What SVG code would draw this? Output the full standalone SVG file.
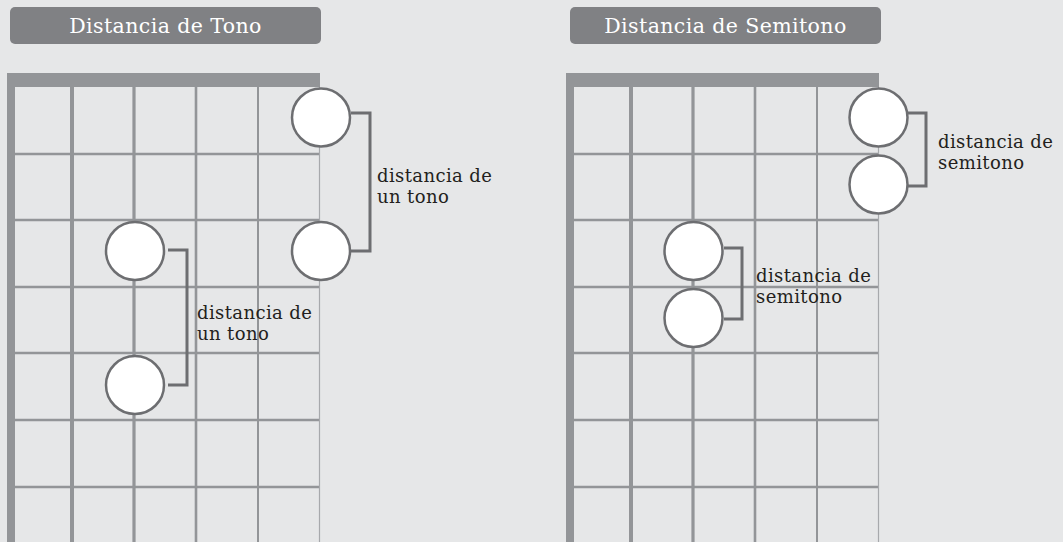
<svg xmlns="http://www.w3.org/2000/svg" width="1063" height="542" viewBox="0 0 1063 542">
<style>
.bg{fill:#e6e7e8}
.title{fill:#808184}
.ttext{fill:#ffffff;font-family:"DejaVu Serif","Liberation Serif",serif;font-size:20.5px;letter-spacing:0.4px}
.nut{fill:#939598}
.fret{stroke:#939598;stroke-width:2.5;fill:none}
.note{fill:#ffffff;stroke:#6d6e71;stroke-width:2.5}
.br{fill:none;stroke:#6d6e71;stroke-width:3}
.lbl{fill:#231f20;font-family:"DejaVu Serif","Liberation Serif",serif;font-size:18px;letter-spacing:0.4px}
</style>
<rect class="bg" x="0" y="0" width="1063" height="542"/>
<defs>
<g id="board">
<rect class="nut" x="7" y="73" width="313" height="14"/>
<rect class="nut" x="7" y="73" width="8" height="469"/>
<g class="fret">
<line x1="15" y1="154" x2="320" y2="154"/>
<line x1="15" y1="220" x2="320" y2="220"/>
<line x1="15" y1="287" x2="320" y2="287"/>
<line x1="15" y1="353" x2="320" y2="353"/>
<line x1="15" y1="420" x2="320" y2="420"/>
<line x1="15" y1="487" x2="320" y2="487"/>
</g>
<line x1="72" y1="87" x2="72" y2="542" stroke="#939598" stroke-width="4"/>
<line x1="134" y1="87" x2="134" y2="542" stroke="#939598" stroke-width="3.2"/>
<line x1="196" y1="87" x2="196" y2="542" stroke="#939598" stroke-width="2.6"/>
<line x1="258" y1="87" x2="258" y2="542" stroke="#939598" stroke-width="2"/>
<line x1="319.5" y1="87" x2="319.5" y2="542" stroke="#a7a9ac" stroke-width="1.2"/>
</g>
</defs>
<g id="tono-title">
<rect class="title" x="10" y="7" width="311" height="37" rx="5"/>
<text class="ttext" x="165.5" y="33" text-anchor="middle">Distancia de Tono</text>
</g>
<g id="semitono-title">
<rect class="title" x="570" y="7" width="311" height="37" rx="5"/>
<text class="ttext" x="725.5" y="33" text-anchor="middle">Distancia de Semitono</text>
</g>
<g id="tono-board"><use href="#board"/></g>
<g id="semitono-board"><use href="#board" transform="translate(559,0)"/></g>
<g id="connectors">
<polyline class="br" points="351,113 370,113 370,251 351,251"/>
<polyline class="br" points="168,250 187,250 187,385 168,385"/>
<polyline class="br" points="908,113 926,113 926,186 908,186"/>
<polyline class="br" points="724,248 742,248 742,319 724,319"/>
</g>
<g id="tono-note1"><circle class="note" cx="321" cy="117.5" r="29"/></g>
<g id="tono-note2"><circle class="note" cx="321" cy="251" r="29"/></g>
<g id="tono-note3"><circle class="note" cx="135" cy="251" r="29"/></g>
<g id="tono-note4"><circle class="note" cx="135" cy="385" r="29"/></g>
<g id="semi-note1"><circle class="note" cx="878.5" cy="117.5" r="29"/></g>
<g id="semi-note2"><circle class="note" cx="878.5" cy="184.5" r="29"/></g>
<g id="semi-note3"><circle class="note" cx="693.5" cy="251" r="29"/></g>
<g id="semi-note4"><circle class="note" cx="693.5" cy="318" r="29"/></g>
<g id="tono-label1"><text class="lbl" x="377" y="182">distancia de<tspan x="377" y="203">un tono</tspan></text></g>
<g id="tono-label2"><text class="lbl" x="197" y="319">distancia de<tspan x="197" y="340">un tono</tspan></text></g>
<g id="semi-label1"><text class="lbl" x="938" y="148">distancia de<tspan x="938" y="169">semitono</tspan></text></g>
<g id="semi-label2"><text class="lbl" x="756" y="282">distancia de<tspan x="756" y="303">semitono</tspan></text></g>
</svg>
